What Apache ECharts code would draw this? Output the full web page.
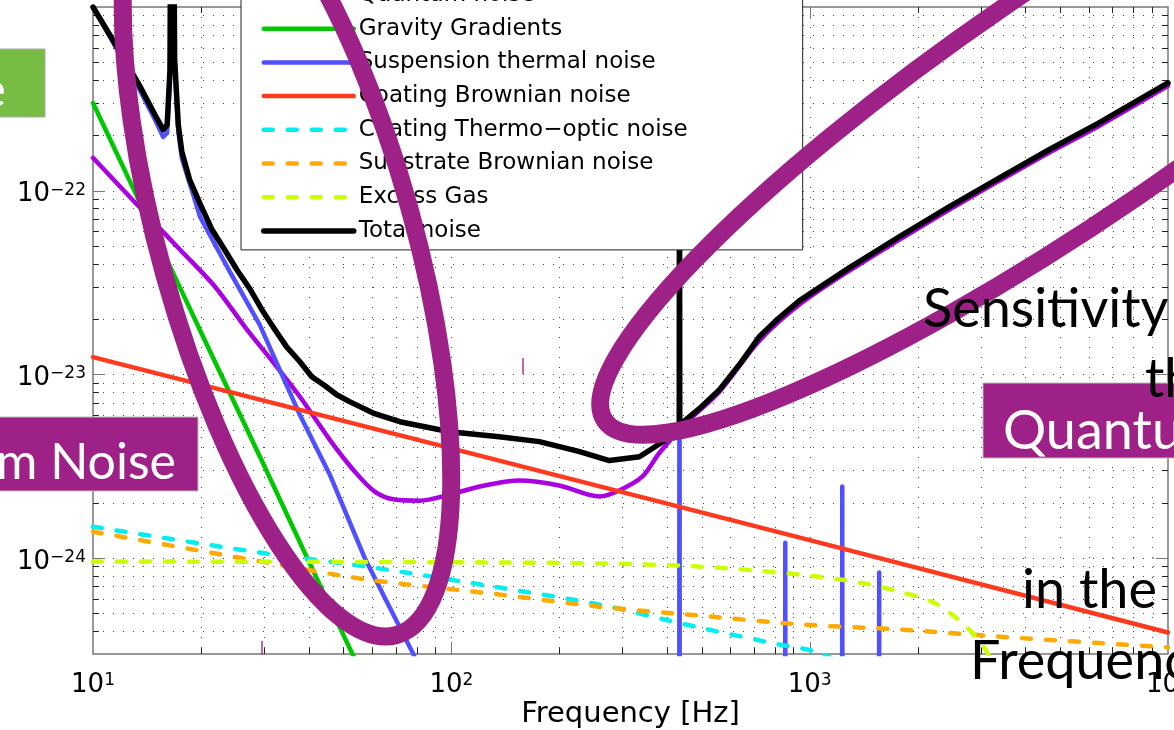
<!DOCTYPE html>
<html>
<head>
<meta charset="utf-8" />
<title>Noise budget</title>
<script type="text/javascript" src="https://cdn.jsdelivr.net/npm/echarts@6/dist/echarts.min.js"></script>
<style>
	html, body { margin: 0; padding: 0; background: #fff; }
	#chartmain { width: 1174px; height: 730px; }
</style>
</head>
<body>
	<div id="chartmain"></div>
	<script type="text/javascript">
		// frequency [Hz] / strain [1/sqrt(Hz)]
		var quantumF = [10, 14.4, 17.5, 21.9, 26.9, 32.2, 37.8, 45.8, 53.8, 61.1, 69.5, 81.6, 98.9, 120, 155, 200, 259, 294, 341, 381, 453, 560, 723, 935, 1289, 1778, 2449, 3378, 4656, 6418, 10000];
		var quantumH = [1.51e-22, 7.1e-23, 4.77e-23, 3.0e-23, 1.75e-23, 1.13e-23, 7.55e-24, 4.4e-24, 2.95e-24, 2.3e-24, 2.08e-24, 2.05e-24, 2.21e-24, 2.45e-24, 2.64e-24, 2.48e-24, 2.16e-24, 2.33e-24, 2.77e-24, 3.74e-24, 5.46e-24, 8.04e-24, 1.52e-23, 2.39e-23, 3.66e-23, 5.4e-23, 7.86e-23, 1.13e-22, 1.61e-22, 2.25e-22, 3.72e-22];

		var gravityF = [10, 15, 20, 30, 40, 50, 60];
		var gravityH = [3.0e-22, 5.6e-23, 1.7e-23, 3.2e-24, 9.6e-25, 3.8e-25, 1.8e-25];

		var suspF = [10, 11.9, 13.5, 14.9, 15.7, 16.1, 16.4, 16.6, 16.9, 17.3, 17.7, 19.9, 24.1, 29.2, 37.8, 45.8, 57.3, 78, 99, 150,
			432.5, 433.2, 434, 854, 855, 856, 1231, 1233, 1235, 1561, 1563, 1565, 10000];
		var suspH = [1.0e-21, 5.48e-22, 3.53e-22, 2.43e-22, 1.96e-22, 2.06e-22, 4.0e-22, 1e-19, 4.8e-22, 2.1e-22, 1.5e-22, 7.2e-23, 3.61e-23, 1.86e-23, 6.0e-24, 2.84e-24, 1.0e-24, 3.05e-25, 1.1e-25, 3e-26,
			1e-26, 5e-22, 1e-26, 1e-26, 1.21e-24, 1e-26, 1e-26, 2.45e-24, 1e-26, 1e-26, 8.34e-25, 1e-26, 1e-26];

		var coatBrF = [10, 100, 1000, 10000];
		var coatBrH = [1.24e-23, 3.95e-24, 1.25e-24, 3.93e-25];

		var thermoF = [10, 29.2, 58.1, 136, 259, 492, 822, 1030, 1284];
		var thermoH = [1.48e-24, 1.07e-24, 8.97e-25, 6.9e-25, 5.57e-25, 4.18e-25, 3.38e-25, 3.1e-25, 2.6e-25];

		var substrF = [10, 30.5, 58.1, 136, 259, 492, 935, 1778, 3378, 10000];
		var substrH = [1.39e-24, 9.45e-25, 7.63e-25, 6.33e-25, 5.43e-25, 4.86e-25, 4.35e-25, 4.08e-25, 3.73e-25, 3.26e-25];

		var gasF = [10, 136, 433, 935, 1374, 1778, 2223, 2698, 3069, 3273];
		var gasH = [9.56e-25, 9.45e-25, 9.1e-25, 8.13e-25, 7.35e-25, 6.56e-25, 5.71e-25, 4.34e-25, 3.25e-25, 2.6e-25];

		var totalF = [10, 11.9, 13.5, 14.9, 15.7, 16.1, 16.4, 16.6, 16.9, 17.3, 17.7, 18.6, 19.9, 21.5, 23.3, 25.2, 27.4, 29.6, 32.2, 34.7, 37.8, 40.8, 44.4, 47.9, 52, 61.1, 71.8,
			98.9, 136, 176, 228, 276, 335, 393, 432.5, 433.2, 434, 492, 560, 637, 723, 822, 935, 1289, 1778, 2449, 3378, 4656, 6418, 10000];
		var totalH = [1.0e-21, 5.69e-22, 3.72e-22, 2.58e-22, 2.15e-22, 2.28e-22, 4.54e-22, 1e-19, 5.15e-22, 2.28e-22, 1.63e-22, 1.15e-22, 8.47e-23, 6.12e-23, 4.77e-23, 3.71e-23, 2.92e-23, 2.25e-23, 1.75e-23, 1.41e-23, 1.17e-23, 9.7e-24, 8.67e-24, 7.74e-24, 7.1e-24, 6.1e-24, 5.52e-24,
			4.87e-24, 4.57e-24, 4.3e-24, 3.79e-24, 3.39e-24, 3.56e-24, 4.35e-24, 5.19e-24, 5e-22, 5.3e-24, 6.5e-24, 8.24e-24, 1.13e-23, 1.6e-23, 2.03e-23, 2.51e-23, 3.8e-23, 5.61e-23, 8.17e-23, 1.17e-22, 1.67e-22, 2.34e-22, 3.86e-22];

		var names = ['Quantum noise', 'Gravity Gradients', 'Suspension thermal noise', 'Coating Brownian noise',
			'Coating Thermo\u2212optic noise', 'Substrate Brownian noise', 'Excess Gas', 'Total noise'];
		var colors = ['#a800e0', '#00c800', '#5050ff', '#ff3a1f', '#00eeee', '#ffaa00', '#ccff00', '#000000'];

		var xMin = 10, xMax = 10000, yMin = 3e-25, yMax = 1e-21;
		var xDecades = [10, 100, 1000];
		var yDecades = [1e-25, 1e-24, 1e-23, 1e-22];

		function pairs(f, h) {
			return f.map(function (v, i) { return [v, h[i]]; });
		}

		// dotted MATLAB grid + inward ticks, one item per grid value
		var xGrid = [], yGrid = [];
		xDecades.forEach(function (d) {
			for (var k = 1; k <= 9; k++) {
				var v = k * d;
				if (v > xMin * 1.001 && v < xMax * 0.999) xGrid.push([v, 1e-23, k === 1 ? 1 : 0]);
			}
		});
		yDecades.forEach(function (d) {
			for (var k = 1; k <= 9; k++) {
				var v = k * d;
				if (v > yMin * 1.001 && v < yMax * 0.999) yGrid.push([100, v, k === 1 ? 1 : 0]);
			}
		});

		var dots = { stroke: '#444', lineWidth: 1, lineDash: [1, 9] };

		function drawXGrid(params, api) {
			var cs = params.coordSys;
			var x = Math.round(api.coord([api.value(0), api.value(1)])[0]) + 0.5;
			var major = api.value(2) === 1;
			var len = major ? 12 : 6;
			var tick = { stroke: major ? '#777' : '#222', lineWidth: 1 };
			var b = cs.y + cs.height;
			return {
				type: 'group',
				children: [
					{ type: 'line', shape: { x1: x, y1: cs.y, x2: x, y2: b }, style: dots },
					{ type: 'line', shape: { x1: x, y1: b, x2: x, y2: b - len }, style: tick },
					{ type: 'line', shape: { x1: x, y1: cs.y, x2: x, y2: cs.y + len }, style: tick }
				]
			};
		}

		function drawYGrid(params, api) {
			var cs = params.coordSys;
			var y = Math.round(api.coord([api.value(0), api.value(1)])[1]) + 0.5;
			var major = api.value(2) === 1;
			var len = major ? 12 : 6;
			var tick = { stroke: major ? '#777' : '#222', lineWidth: 1 };
			var r = cs.x + cs.width;
			return {
				type: 'group',
				children: [
					{ type: 'line', shape: { x1: cs.x, y1: y, x2: r, y2: y }, style: dots },
					{ type: 'line', shape: { x1: cs.x, y1: y, x2: cs.x + len, y2: y }, style: tick },
					{ type: 'line', shape: { x1: r, y1: y, x2: r - len, y2: y }, style: tick }
				]
			};
		}

		function powLabel(v) {
			if (v < yMin * 1.001 || (v > yMax * 0.999 && v < 1)) return '';
			var e = Math.round(Math.log10(v));
			return '{b|10}{s|' + (e < 0 ? '\u2212' + (-e) : e) + '}';
		}

		var labelRich = {
			b: { fontFamily: 'DejaVu Sans', fontSize: 26, lineHeight: 26, verticalAlign: 'bottom', color: '#000' },
			s: { fontFamily: 'DejaVu Sans', fontSize: 17, lineHeight: 20, padding: [0, 0, 14, 0], verticalAlign: 'top', color: '#000' }
		};

		function line(i, f, h, dashed, smooth) {
			return {
				name: names[i],
				type: 'line',
				data: pairs(f, h),
				symbol: 'none',
				smooth: smooth || false,
				z: 2,
				lineStyle: {
					color: colors[i],
					width: i === 7 ? 5.5 : 4.5,
					type: dashed ? [9, 15] : 'solid',
					cap: 'round',
					join: 'round'
				},
				itemStyle: { color: colors[i] },
				emphasis: { disabled: true }
			};
		}

		var purple = '#9e2187';
		var slideFont = 'Lato';

		var option = {
			animation: false,
			backgroundColor: '#fff',
			grid: {
				left: 93, top: 7, width: 1075, height: 647,
				outerBoundsMode: 'none', containLabel: false,
				show: true, borderColor: '#777', borderWidth: 1.5
			},
			xAxis: {
				type: 'log', logBase: 10, min: xMin, max: xMax,
				axisLine: { show: false }, axisTick: { show: false }, splitLine: { show: false },
				axisLabel: { formatter: powLabel, rich: labelRich, margin: 18 },
				name: 'Frequency [Hz]', nameLocation: 'middle', nameGap: 46, nameMoveOverlap: false,
				nameTextStyle: { fontFamily: 'DejaVu Sans', fontSize: 29, color: '#000' }
			},
			yAxis: {
				type: 'log', logBase: 10, min: yMin, max: yMax,
				axisLine: { show: false }, axisTick: { show: false }, splitLine: { show: false },
				axisLabel: { formatter: powLabel, rich: labelRich, margin: 7, padding: [8, 0, 0, 0] }
			},
			legend: {
				data: names,
				orient: 'vertical', left: 241, top: -27,
				itemWidth: 90, itemHeight: 24, itemGap: 9.7,
				padding: [10, 115, 7, 20],
				backgroundColor: '#fff', borderColor: '#222', borderWidth: 1,
				selectedMode: false,
				lineStyle: { width: 'inherit' },
				itemStyle: { color: 'rgba(0,0,0,0)', borderColor: 'rgba(0,0,0,0)', borderWidth: 0 },
				textStyle: { fontFamily: 'DejaVu Sans', fontSize: 23, lineHeight: 24, color: '#000' }
			},
			series: [
				{ name: 'xgrid', type: 'custom', data: xGrid, renderItem: drawXGrid, silent: true, z: 1, encode: { x: 0, y: 1 } },
				{ name: 'ygrid', type: 'custom', data: yGrid, renderItem: drawYGrid, silent: true, z: 1, encode: { x: 0, y: 1 } },
				line(0, quantumF, quantumH, false, 0.3),
				line(1, gravityF, gravityH),
				line(2, suspF, suspH),
				line(3, coatBrF, coatBrH),
				line(4, thermoF, thermoH, true, 0.3),
				line(5, substrF, substrH, true, 0.3),
				line(6, gasF, gasH, true, 0.3),
				line(7, totalF, totalH)
			],
			// slide annotations drawn over the figure
			graphic: [
				{ type: 'ellipse', z: 100, x: 287, y: 242, rotation: 0.272, shape: { cx: 0, cy: 0, rx: 127, ry: 408 },
					style: { fill: 'none', stroke: purple, lineWidth: 18 } },
				{ type: 'ellipse', z: 100, x: 1072, y: 101, rotation: 0.60, shape: { cx: 0, cy: 0, rx: 566, ry: 116 },
					style: { fill: 'none', stroke: purple, lineWidth: 18 } },
				{ type: 'rect', z: 101, shape: { x: -2, y: 49, width: 47, height: 68 }, style: { fill: '#77bd43', stroke: '#aaa', lineWidth: 1 } },
				{ type: 'text', z: 102, style: { text: 'Thermal Noise', x: 6, y: 91, align: 'right', verticalAlign: 'middle', font: '50px ' + slideFont, fill: '#fff' } },
				{ type: 'rect', z: 101, shape: { x: -2, y: 417, width: 200, height: 74 }, style: { fill: purple, stroke: '#bbb', lineWidth: 1 } },
				{ type: 'text', z: 102, style: { text: 'Quantum Noise', x: 176, y: 463, align: 'right', verticalAlign: 'middle', font: '50px ' + slideFont, fill: '#fff' } },
				{ type: 'rect', z: 101, shape: { x: 983, y: 383, width: 200, height: 75 }, style: { fill: purple, stroke: '#bbb', lineWidth: 1 } },
				{ type: 'text', z: 102, style: { text: 'Quantum Noise', x: 1003, y: 432, align: 'left', verticalAlign: 'middle', font: '54px ' + slideFont, fill: '#fff' } },
				{ type: 'text', z: 103, style: { text: 'Sensitivity', x: 923, y: 310, align: 'left', verticalAlign: 'middle', font: '54px ' + slideFont, fill: '#000' } },
				{ type: 'text', z: 103, style: { text: 'the', x: 1145, y: 380, align: 'left', verticalAlign: 'middle', font: '54px ' + slideFont, fill: '#000' } },
				{ type: 'text', z: 103, style: { text: 'in the', x: 1022, y: 591, align: 'left', verticalAlign: 'middle', font: '54px ' + slideFont, fill: '#000' } },
				{ type: 'text', z: 103, style: { text: 'Frequency', x: 970, y: 662, align: 'left', verticalAlign: 'middle', font: '54px ' + slideFont, fill: '#000' } },
				{ type: 'line', z: 100, shape: { x1: 262, y1: 641, x2: 262, y2: 655 }, style: { stroke: '#b03090', lineWidth: 1.5 } },
				{ type: 'line', z: 100, shape: { x1: 523, y1: 358, x2: 523, y2: 374 }, style: { stroke: '#b03090', lineWidth: 1.5 } }
			]
		};

		var myChart = echarts.init(document.getElementById('chartmain'));
		myChart.setOption(option);
	</script>
</body>
</html>
